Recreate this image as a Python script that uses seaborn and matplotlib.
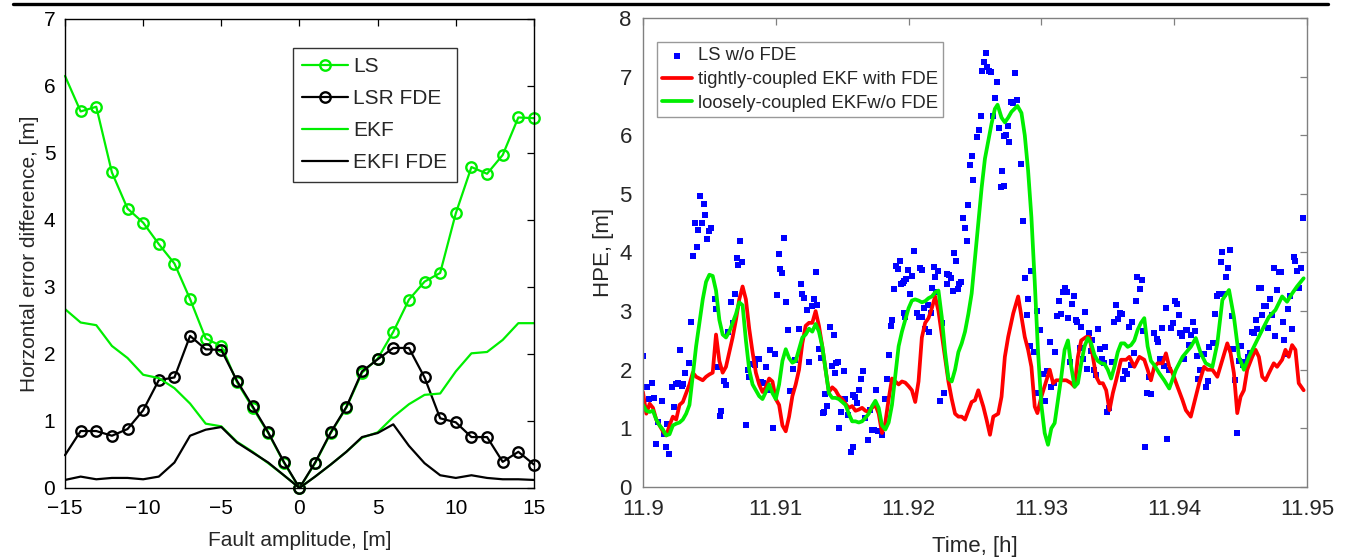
import matplotlib
matplotlib.use("Agg")
import matplotlib.pyplot as plt
from matplotlib.lines import Line2D
import seaborn as sns

# ---------------- left panel: error difference vs fault amplitude ----------------
fault_amp = list(range(-15, 16))
ls_err = [6.15, 5.62, 5.69, 4.71, 4.17, 3.96, 3.64, 3.35, 2.82, 2.23, 2.12,
          1.58, 1.20, 0.82, 0.38, 0.00, 0.37, 0.82, 1.20, 1.72, 1.93,
          2.33, 2.81, 3.08, 3.21, 4.10, 4.79, 4.69, 4.97, 5.53, 5.52]
lsr_fde_err = [0.49, 0.85, 0.85, 0.78, 0.88, 1.16, 1.61, 1.65, 2.27, 2.07, 2.06,
               1.60, 1.22, 0.83, 0.39, 0.00, 0.38, 0.83, 1.21, 1.74, 1.92,
               2.09, 2.09, 1.65, 1.04, 0.98, 0.76, 0.76, 0.39, 0.54, 0.35]
ekf_err = [2.67, 2.47, 2.43, 2.12, 1.94, 1.69, 1.64, 1.49, 1.26, 0.96, 0.92,
           0.69, 0.54, 0.37, 0.19, 0.00, 0.17, 0.35, 0.54, 0.75, 0.83,
           1.06, 1.25, 1.39, 1.41, 1.74, 2.01, 2.03, 2.21, 2.46, 2.46]
ekfi_fde_err = [0.12, 0.17, 0.13, 0.15, 0.15, 0.13, 0.17, 0.38, 0.78, 0.87, 0.91,
                0.68, 0.53, 0.38, 0.19, 0.00, 0.17, 0.35, 0.54, 0.76, 0.82,
                0.95, 0.63, 0.37, 0.19, 0.15, 0.19, 0.15, 0.13, 0.13, 0.12]

# ---------------- right panel: HPE vs time (t [h], HPE [m]) ----------------
ls_pts = [
    (11.9, 2.24), (11.90013, 1.71), (11.9003, 1.71), (11.90045, 1.5), (11.9007, 1.77),
    (11.90083, 1.51), (11.90095, 0.74), (11.90113, 1.11), (11.9014, 1.47), (11.90155, 0.91),
    (11.9017, 0.68), (11.9018, 1.07), (11.90195, 0.56), (11.9022, 1.7), (11.90235, 1.36),
    (11.90245, 1.76), (11.90263, 1.78), (11.90275, 2.33), (11.90293, 1.72), (11.90305, 1.76),
    (11.90318, 1.94), (11.90345, 2.12), (11.9036, 2.82), (11.90375, 3.94), (11.90388, 4.51),
    (11.90403, 4.1), (11.90415, 4.38), (11.90428, 4.97), (11.90443, 4.5), (11.90458, 4.82),
    (11.9047, 4.64), (11.90483, 4.23), (11.90495, 4.37), (11.9051, 4.41), (11.9054, 3.2),
    (11.90553, 3.04), (11.90565, 2.05), (11.90578, 1.21), (11.9059, 1.3), (11.9061, 1.8),
    (11.90623, 1.74), (11.90638, 2.64), (11.90663, 3.16), (11.90678, 2.79), (11.9069, 3.3),
    (11.90705, 3.9), (11.90718, 3.78), (11.90733, 4.19), (11.90748, 3.84), (11.90773, 1.06),
    (11.90788, 1.99), (11.908, 1.88), (11.90825, 2.09), (11.90843, 2.08), (11.90858, 2.18),
    (11.90875, 2.19), (11.90885, 1.79), (11.90903, 1.77), (11.90928, 2.04), (11.9094, 1.65),
    (11.90953, 2.33), (11.9098, 1.0), (11.90993, 2.27), (11.91008, 3.27), (11.91023, 3.98),
    (11.91035, 3.72), (11.9105, 3.65), (11.91063, 4.25), (11.91078, 3.15), (11.91093, 2.68),
    (11.91105, 1.64), (11.91133, 2.01), (11.91145, 2.16), (11.91173, 2.69), (11.91188, 3.47),
    (11.912, 3.3), (11.91215, 3.23), (11.91238, 3.02), (11.9125, 2.13), (11.91275, 3.08),
    (11.91288, 3.2), (11.913, 3.66), (11.91313, 3.1), (11.91323, 2.36), (11.91338, 2.2),
    (11.91353, 1.27), (11.91363, 1.28), (11.9137, 1.59), (11.91383, 1.38), (11.91408, 2.73),
    (11.91425, 2.06), (11.91438, 2.59), (11.91445, 1.94), (11.91453, 2.12), (11.91468, 2.13),
    (11.91475, 1.01), (11.91493, 1.28), (11.91513, 1.97), (11.91525, 1.5), (11.91543, 1.23),
    (11.91563, 0.6), (11.91578, 0.69), (11.91583, 1.57), (11.916, 1.54), (11.91613, 1.44),
    (11.91628, 1.65), (11.91643, 1.84), (11.91658, 1.98), (11.91675, 1.17), (11.91698, 0.8),
    (11.91713, 1.31), (11.91725, 0.97), (11.9174, 0.97), (11.91755, 1.65), (11.91768, 0.96),
    (11.91798, 0.88), (11.91823, 1.5), (11.91838, 1.84), (11.9185, 2.25), (11.91868, 2.75),
    (11.91878, 2.85), (11.91893, 3.37), (11.91903, 3.77), (11.91918, 3.71), (11.91933, 3.85),
    (11.91943, 3.47), (11.91955, 3.48), (11.91963, 2.96), (11.91968, 3.52), (11.91975, 2.9),
    (11.91983, 3.55), (11.91995, 3.7), (11.92008, 3.29), (11.92025, 3.6), (11.92038, 4.03),
    (11.92063, 2.96), (11.92075, 2.9), (11.92083, 3.74), (11.92098, 3.7), (11.921, 2.9),
    (11.92113, 3.05), (11.92125, 2.69), (11.92143, 3.1), (11.92155, 2.65), (11.92168, 2.96),
    (11.9218, 3.4), (11.92188, 3.75), (11.922, 3.59), (11.92208, 3.33), (11.92225, 3.69),
    (11.92238, 1.46), (11.9225, 2.79), (11.92263, 1.61), (11.92288, 3.47), (11.92293, 3.64),
    (11.92305, 3.62), (11.92318, 3.56), (11.92333, 3.34), (11.92343, 3.99), (11.92358, 3.86),
    (11.9237, 3.38), (11.92383, 3.47), (11.92395, 3.49), (11.92408, 4.59), (11.92425, 4.41),
    (11.92438, 4.2), (11.9245, 4.81), (11.92463, 5.49), (11.92475, 5.65), (11.92488, 5.24),
    (11.92515, 5.97), (11.92528, 6.09), (11.92543, 6.32), (11.92555, 7.1), (11.92568, 7.25),
    (11.9258, 7.4), (11.92593, 7.17), (11.92605, 7.1), (11.9262, 7.08), (11.92638, 6.32),
    (11.9265, 6.64), (11.92665, 6.9), (11.9268, 6.13), (11.92693, 5.12), (11.92705, 5.39),
    (11.92715, 5.99), (11.9272, 5.13), (11.92733, 6.0), (11.92745, 6.16), (11.92758, 5.89),
    (11.9277, 6.57), (11.92785, 6.55), (11.92803, 7.07), (11.92818, 6.6), (11.92843, 5.51),
    (11.92858, 4.54), (11.92875, 3.57), (11.92888, 2.94), (11.929, 3.21), (11.92913, 2.41),
    (11.92925, 3.68), (11.92943, 2.31), (11.92963, 1.61), (11.9297, 3.01), (11.92988, 2.68),
    (11.93013, 1.93), (11.9303, 1.47), (11.93045, 1.98), (11.93065, 2.47), (11.93075, 1.71),
    (11.93093, 1.77), (11.93105, 2.31), (11.9312, 2.92), (11.93135, 3.18), (11.93148, 2.95),
    (11.93163, 3.33), (11.93175, 3.4), (11.9319, 3.33), (11.93203, 2.88), (11.93218, 2.13),
    (11.93233, 3.12), (11.93245, 3.25), (11.93258, 2.85), (11.9327, 2.81), (11.93288, 2.37),
    (11.933, 2.73), (11.93315, 2.19), (11.93328, 2.99), (11.93343, 2.02), (11.93355, 2.62),
    (11.9337, 2.32), (11.93383, 2.51), (11.93398, 2.0), (11.93413, 1.91), (11.93425, 2.69),
    (11.9344, 2.35), (11.93455, 2.19), (11.93468, 2.11), (11.9348, 2.38), (11.93495, 1.28),
    (11.93508, 1.34), (11.93533, 2.14), (11.93545, 2.81), (11.93563, 3.1), (11.93578, 2.86),
    (11.9359, 2.97), (11.93605, 2.95), (11.93618, 1.84), (11.9363, 1.98), (11.93645, 1.93),
    (11.9366, 2.73), (11.93673, 2.08), (11.93685, 2.81), (11.937, 2.29), (11.9371, 3.18),
    (11.9372, 3.59), (11.93743, 3.37), (11.93758, 3.53), (11.93763, 2.66), (11.93783, 0.69),
    (11.93793, 1.61), (11.93813, 1.88), (11.93825, 1.59), (11.9385, 2.62), (11.93868, 2.52),
    (11.9388, 2.48), (11.93893, 2.18), (11.93908, 2.72), (11.9392, 2.06), (11.93935, 3.06),
    (11.93948, 0.81), (11.93963, 2.0), (11.93978, 2.71), (11.9399, 2.79), (11.94005, 3.18),
    (11.94018, 3.12), (11.94033, 2.94), (11.94045, 2.63), (11.9406, 2.58), (11.94073, 2.19),
    (11.94088, 2.68), (11.941, 2.67), (11.94115, 2.43), (11.94128, 2.6), (11.94143, 2.81),
    (11.94155, 2.66), (11.9417, 2.24), (11.94183, 1.84), (11.94198, 2.0), (11.9421, 2.26),
    (11.94225, 2.27), (11.94238, 1.7), (11.94253, 1.81), (11.94265, 2.38), (11.94293, 2.45),
    (11.94308, 2.95), (11.9432, 3.25), (11.94335, 3.3), (11.9435, 3.84), (11.94363, 4.0),
    (11.94378, 3.29), (11.9439, 3.59), (11.94405, 3.73), (11.94418, 4.05), (11.94433, 2.91),
    (11.94445, 2.35), (11.9446, 1.82), (11.94475, 0.92), (11.94488, 2.15), (11.94503, 2.4),
    (11.94515, 2.08), (11.9453, 2.14), (11.94543, 2.05), (11.94558, 2.22), (11.9457, 2.29),
    (11.94585, 2.64), (11.94598, 2.62), (11.94613, 2.84), (11.94625, 2.69), (11.94638, 3.39),
    (11.94653, 3.39), (11.94665, 2.94), (11.94678, 3.08), (11.94693, 3.08), (11.94705, 2.71),
    (11.9472, 3.21), (11.94733, 2.93), (11.94748, 3.73), (11.94763, 2.58), (11.94778, 3.36),
    (11.9479, 3.66), (11.94805, 3.66), (11.94818, 2.81), (11.9483, 2.51), (11.94845, 2.27),
    (11.94858, 3.03), (11.94873, 3.26), (11.94885, 2.69), (11.949, 3.93), (11.94913, 3.85),
    (11.94928, 3.69), (11.94943, 3.39), (11.94953, 3.73), (11.94968, 4.58),
]

tight_pts = [
    (11.9, 1.62), (11.90025, 1.25), (11.9005, 1.42), (11.90075, 1.35),
    (11.901, 1.15), (11.90125, 1.05), (11.9015, 0.95), (11.90175, 0.88),
    (11.902, 1.05), (11.90225, 1.2), (11.9025, 1.15), (11.90275, 1.4),
    (11.903, 1.45), (11.90325, 1.6), (11.9035, 1.75), (11.90375, 1.95),
    (11.904, 1.88), (11.90425, 1.85), (11.9045, 1.82), (11.90475, 1.88),
    (11.905, 1.92), (11.90525, 1.95), (11.9055, 2.6), (11.90575, 2.15),
    (11.906, 1.95), (11.90625, 2.05), (11.9065, 2.3), (11.90675, 2.55),
    (11.907, 2.85), (11.90725, 3.2), (11.9075, 3.42), (11.90775, 3.2),
    (11.908, 2.7), (11.90825, 2.3), (11.9085, 1.95), (11.90875, 1.75),
    (11.909, 1.62), (11.90925, 1.7), (11.9095, 1.85), (11.90975, 1.8),
    (11.91, 1.5), (11.91025, 1.4), (11.9105, 1.05), (11.91075, 0.95),
    (11.911, 1.2), (11.91125, 1.55), (11.9115, 1.75), (11.91175, 2.0),
    (11.912, 2.45), (11.91225, 2.75), (11.9125, 2.8), (11.91275, 2.8),
    (11.913, 3.0), (11.91325, 2.75), (11.9135, 2.4), (11.91375, 2.0),
    (11.914, 1.62), (11.91425, 1.7), (11.9145, 1.65), (11.91475, 1.55),
    (11.915, 1.5), (11.91525, 1.42), (11.9155, 1.35), (11.91575, 1.38),
    (11.916, 1.3), (11.91625, 1.32), (11.9165, 1.35), (11.91675, 1.3),
    (11.917, 1.28), (11.91725, 1.35), (11.9175, 1.4), (11.91775, 1.25),
    (11.918, 0.92), (11.91825, 1.1), (11.9185, 1.5), (11.91875, 1.85),
    (11.919, 1.8), (11.91925, 1.75), (11.9195, 1.8), (11.91975, 1.78),
    (11.92, 1.72), (11.92025, 1.65), (11.9205, 1.45), (11.92075, 1.8),
    (11.921, 2.55), (11.92125, 2.8), (11.9215, 2.88), (11.92175, 3.05),
    (11.922, 3.25), (11.92225, 3.0), (11.9225, 2.6), (11.92275, 2.2),
    (11.923, 1.8), (11.92325, 1.5), (11.9235, 1.25), (11.92375, 1.2),
    (11.924, 1.2), (11.92425, 1.15), (11.9245, 1.3), (11.92475, 1.45),
    (11.925, 1.48), (11.92525, 1.65), (11.92563, 1.37), (11.92588, 1.14),
    (11.92613, 0.89), (11.92638, 1.2), (11.92675, 1.25), (11.927, 1.54),
    (11.92725, 2.22), (11.9275, 2.56), (11.92788, 2.96), (11.92825, 3.25),
    (11.9285, 2.9), (11.92875, 2.56), (11.929, 2.34), (11.92925, 2.05),
    (11.9295, 1.37), (11.9297, 1.26), (11.93, 1.54), (11.93038, 1.82),
    (11.93063, 2.0), (11.93088, 1.77), (11.93113, 1.82), (11.9315, 1.82),
    (11.93188, 1.82), (11.93225, 1.77), (11.9325, 1.71), (11.93275, 2.22),
    (11.933, 2.5), (11.93338, 2.56), (11.93363, 2.56), (11.93388, 2.22),
    (11.93413, 1.88), (11.93438, 1.77), (11.93463, 1.77), (11.93488, 1.65),
    (11.93513, 1.31), (11.93538, 1.6), (11.93563, 1.82), (11.936, 2.17),
    (11.93638, 2.17), (11.93663, 2.22), (11.937, 2.05), (11.93738, 2.22),
    (11.93775, 2.17), (11.938, 2.0), (11.93825, 1.82), (11.9385, 2.05),
    (11.93875, 2.11), (11.93913, 2.11), (11.93938, 2.28), (11.93963, 2.05),
    (11.93988, 1.94), (11.94025, 1.71), (11.94063, 1.48), (11.94088, 1.31),
    (11.94125, 1.2), (11.94163, 1.54), (11.94188, 1.77), (11.94225, 2.05),
    (11.9425, 2.0), (11.94288, 2.0), (11.94325, 1.88), (11.94363, 2.17),
    (11.944, 2.45), (11.94425, 2.28), (11.9445, 1.94), (11.94475, 1.26),
    (11.945, 1.54), (11.94525, 1.65), (11.9455, 2.0), (11.94588, 2.22),
    (11.94613, 2.34), (11.94638, 2.22), (11.94663, 1.88), (11.94688, 1.82),
    (11.94713, 1.94), (11.9475, 2.11), (11.94775, 2.05), (11.94813, 2.17),
    (11.94838, 2.34), (11.94863, 2.22), (11.94888, 2.42), (11.94913, 2.34),
    (11.94938, 1.77), (11.94975, 1.65),
]

loose_pts = [
    (11.9, 1.4), (11.90025, 1.3), (11.9005, 1.28), (11.90075, 1.3),
    (11.901, 1.15), (11.90125, 1.05), (11.9015, 0.98), (11.90175, 0.88),
    (11.902, 0.9), (11.90225, 1.05), (11.9025, 1.08), (11.90275, 1.1),
    (11.903, 1.15), (11.90325, 1.25), (11.9035, 1.4), (11.90375, 1.9),
    (11.904, 2.4), (11.90425, 2.8), (11.9045, 3.2), (11.90475, 3.5),
    (11.905, 3.62), (11.90525, 3.6), (11.9055, 3.35), (11.90575, 2.85),
    (11.906, 2.6), (11.90625, 2.55), (11.9065, 2.65), (11.90675, 2.8),
    (11.907, 2.95), (11.90725, 3.15), (11.9075, 3.1), (11.90775, 2.5),
    (11.908, 2.0), (11.90825, 1.75), (11.9085, 1.65), (11.90875, 1.55),
    (11.909, 1.5), (11.90925, 1.62), (11.9095, 1.75), (11.90975, 1.6),
    (11.91, 1.5), (11.91025, 1.75), (11.9105, 2.15), (11.91075, 2.35),
    (11.911, 2.2), (11.91125, 2.12), (11.9115, 2.15), (11.91175, 2.35),
    (11.912, 2.55), (11.91225, 2.6), (11.9125, 2.7), (11.91275, 2.65),
    (11.913, 2.78), (11.91325, 2.65), (11.9135, 2.4), (11.91375, 2.0),
    (11.914, 1.6), (11.91425, 1.52), (11.9145, 1.52), (11.91475, 1.5),
    (11.915, 1.45), (11.91525, 1.4), (11.9155, 1.25), (11.91575, 1.12),
    (11.916, 1.12), (11.91625, 1.1), (11.9165, 1.12), (11.91675, 1.18),
    (11.917, 1.25), (11.91725, 1.38), (11.9175, 1.47), (11.91775, 1.35),
    (11.918, 1.05), (11.91825, 0.98), (11.9185, 1.1), (11.91875, 1.4),
    (11.919, 1.9), (11.91925, 2.4), (11.9195, 2.65), (11.91975, 2.85),
    (11.92, 3.05), (11.92025, 3.18), (11.9205, 3.2), (11.92075, 3.18),
    (11.921, 3.15), (11.92125, 3.17), (11.9215, 3.22), (11.92175, 3.25),
    (11.922, 3.32), (11.92225, 3.35), (11.9225, 2.9), (11.92275, 2.3),
    (11.923, 1.85), (11.92325, 1.8), (11.9235, 2.0), (11.92375, 2.3),
    (11.924, 2.45), (11.92425, 2.65), (11.9245, 2.95), (11.92475, 3.3),
    (11.925, 3.9), (11.92525, 4.5), (11.9255, 5.1), (11.92575, 5.6),
    (11.926, 5.9), (11.92625, 6.2), (11.9265, 6.45), (11.9267, 6.52),
    (11.927, 6.3), (11.92725, 6.22), (11.9275, 6.3), (11.92775, 6.4),
    (11.9282, 6.5), (11.9285, 6.38), (11.92875, 6.0), (11.929, 5.4),
    (11.92925, 4.6), (11.9295, 3.5), (11.92975, 2.3), (11.93, 1.4),
    (11.93025, 0.92), (11.9305, 0.72), (11.93075, 1.0), (11.931, 1.09),
    (11.93125, 1.48), (11.9315, 1.88), (11.93175, 2.34), (11.932, 2.5),
    (11.93225, 2.05), (11.9325, 1.71), (11.93275, 1.77), (11.933, 2.11),
    (11.93325, 2.4), (11.9335, 2.54), (11.93375, 2.45), (11.934, 2.25),
    (11.93425, 2.15), (11.9345, 2.11), (11.93475, 2.1), (11.935, 2.0),
    (11.93525, 1.85), (11.9355, 2.05), (11.93575, 2.3), (11.936, 2.45),
    (11.93625, 2.45), (11.9365, 2.39), (11.93675, 2.42), (11.937, 2.5),
    (11.93725, 2.68), (11.9375, 2.8), (11.93775, 2.88), (11.938, 2.4),
    (11.93825, 2.15), (11.9385, 2.08), (11.93888, 1.94), (11.93925, 1.82),
    (11.93963, 1.68), (11.94013, 2.0), (11.94063, 2.22), (11.94125, 2.39),
    (11.94163, 2.54), (11.942, 2.28), (11.94238, 2.11), (11.94288, 2.05),
    (11.94325, 2.45), (11.94363, 3.19), (11.94413, 3.36), (11.9445, 2.9),
    (11.94488, 2.22), (11.94525, 2.0), (11.94563, 2.22), (11.94613, 2.45),
    (11.94663, 2.68), (11.94713, 2.9), (11.94763, 3.02), (11.94813, 3.25),
    (11.9485, 3.16), (11.94888, 3.3), (11.94925, 3.42), (11.94975, 3.56),
]

time_ticks = [11.9, 11.91, 11.92, 11.93, 11.94, 11.95]
time_labels = ["11.9", "11.91", "11.92", "11.93", "11.94", "11.95"]

sns.set_style("white")
plt.rcParams['font.family'] = ['Liberation Sans', 'DejaVu Sans']
plt.rcParams['xtick.direction'] = 'in'
plt.rcParams['ytick.direction'] = 'in'

GREEN = '#00ee00'

fig = plt.figure(figsize=(13.46, 5.57), dpi=100)
ax1 = fig.add_axes([0.0483, 0.1239, 0.3484, 0.842])
ax2 = fig.add_axes([0.4777, 0.1257, 0.4933, 0.842])

# top rule of the page
fig.add_artist(Line2D([13 / 1346, 1328 / 1346], [1 - 4 / 557, 1 - 4 / 557],
                      color='black', lw=2.4, transform=fig.transFigure))

#### left panel ####
marks = list(range(1, 31))
sns.lineplot(x=fault_amp, y=ls_err, ax=ax1, color=GREEN, lw=1.6, marker='o', ms=7.5,
             mfc='none', mec=GREEN, mew=1.7, markevery=marks, label='LS', clip_on=False)
sns.lineplot(x=fault_amp, y=lsr_fde_err, ax=ax1, color='black', lw=1.6, marker='o', ms=7.5,
             mfc='none', mec='black', mew=1.7, markevery=marks, label='LSR FDE', clip_on=False)
sns.lineplot(x=fault_amp, y=ekf_err, ax=ax1, color=GREEN, lw=1.6, label='EKF')
sns.lineplot(x=fault_amp, y=ekfi_fde_err, ax=ax1, color='black', lw=1.6, label='EKFI FDE')

ax1.set_xlim(-15, 15)
ax1.set_ylim(0, 7)
ax1.set_xticks([-15, -10, -5, 0, 5, 10, 15])
ax1.set_xticklabels(['\u221215', '\u221210', '\u22125', '0', '5', '10', '15'])
ax1.set_yticks(range(0, 8))
ax1.tick_params(labelsize=15, length=5, width=0.9, top=True, right=True, colors='black')
ax1.tick_params(axis='x', pad=8)
ax1.tick_params(axis='y', pad=7)
for s in ax1.spines.values():
    s.set_color('black')
    s.set_linewidth(1.0)
ax1.set_xlabel('Fault amplitude, [m]', fontsize=15, labelpad=9)
ax1.set_ylabel('Horzontal error difference, [m]', fontsize=15, labelpad=3)
leg1 = ax1.legend(loc='upper left', bbox_to_anchor=(0.486, 0.938), borderaxespad=0,
                  fontsize=15, frameon=True, fancybox=False, edgecolor='black',
                  handlelength=2.2, handletextpad=0.25, labelspacing=0.62, borderpad=0.45)
leg1.get_frame().set_linewidth(1.0)

#### right panel ####
sns.scatterplot(x=[p[0] for p in ls_pts], y=[p[1] for p in ls_pts], ax=ax2, marker='s',
                color='#0000ff', s=14, linewidth=0, label='LS w/o FDE')
sns.lineplot(x=[p[0] for p in tight_pts], y=[p[1] for p in tight_pts], ax=ax2,
             color='#ff0000', lw=2.7, sort=False, label='tightly-coupled EKF with FDE')
sns.lineplot(x=[p[0] for p in loose_pts], y=[p[1] for p in loose_pts], ax=ax2,
             color=GREEN, lw=2.7, sort=False, label='loosely-coupled EKFw/o FDE')

ax2.set_xlim(11.9, 11.95)
ax2.set_ylim(0, 8)
ax2.set_xticks(time_ticks)
ax2.set_xticklabels(time_labels)
ax2.set_yticks(range(0, 9))
ax2.tick_params(labelsize=16, length=5, width=0.9, top=True, right=True,
                color='#808080', labelcolor='#262626')
ax2.tick_params(axis='x', pad=9)
ax2.tick_params(axis='y', pad=8)
for s in ax2.spines.values():
    s.set_color('#808080')
    s.set_linewidth(1.0)
ax2.set_xlabel('Time, [h]', fontsize=16, color='#262626', labelpad=11)
ax2.set_ylabel('HPE, [m]', fontsize=16, color='#262626', labelpad=4)
leg2 = ax2.legend(loc='upper left', bbox_to_anchor=(0.021, 0.949), borderaxespad=0,
                  fontsize=13.3, frameon=True, fancybox=False, edgecolor='#808080',
                  handlelength=1.6, handletextpad=0.3, labelspacing=0.36, borderpad=0.3,
                  markerscale=1.0)
leg2.get_frame().set_linewidth(1.0)
for t in leg2.get_texts():
    t.set_color('#262626')

fig.savefig('out.png', dpi=100)
